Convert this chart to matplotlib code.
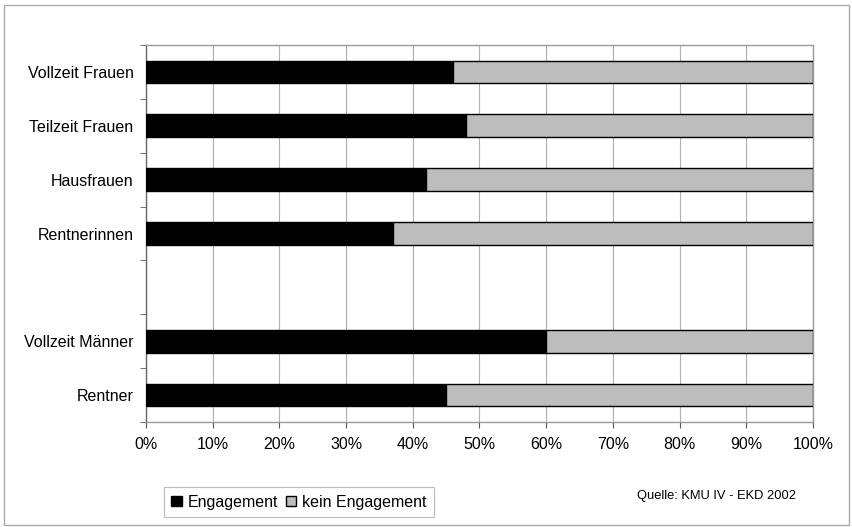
import matplotlib
matplotlib.use("Agg")
import matplotlib.pyplot as plt
from matplotlib.patches import Rectangle, Patch
import numpy as np

categories = ["Vollzeit Frauen", "Teilzeit Frauen", "Hausfrauen", "Rentnerinnen",
              "Vollzeit Männer", "Rentner"]
groups = ["Frauen", "Frauen", "Frauen", "Frauen", "Männer", "Männer"]
engagement = [46, 48, 42, 37, 60, 45]
kein_engagement = [54, 52, 58, 63, 40, 55]
xticks = [0, 10, 20, 30, 40, 50, 60, 70, 80, 90, 100]
xticklabels = [f"{v}%" for v in xticks]
series_names = ["Engagement", "kein Engagement"]
source = "Quelle: KMU IV - EKD 2002"

plt.rcParams['font.family'] = ['Liberation Sans', 'DejaVu Sans']

# positions with an empty slot between groups
pos = []
p = 0
for i, g in enumerate(groups):
    if i > 0 and g != groups[i - 1]:
        p += 1
    pos.append(p)
    p += 1
nslots = p

fig = plt.figure(figsize=(8.53, 5.27), dpi=100)
W, H = 853, 527
ax = fig.add_axes([146 / W, 1 - 422 / H, (813 - 146) / W, (422 - 45) / H])

black = "#000000"
grey = "#bdbdbd"
ax.barh(pos, engagement, height=0.42, color=black, edgecolor=black, linewidth=1, zorder=3)
ax.barh(pos, kein_engagement, left=engagement, height=0.42, color=grey,
        edgecolor=black, linewidth=1, zorder=3)

ax.set_xlim(0, 100)
ax.set_ylim(nslots - 0.5, -0.5)
ax.set_xticks(xticks)
ax.set_xticklabels(xticklabels, fontsize=11.5)
ax.set_yticks(pos)
ax.set_yticklabels(categories, fontsize=11.5)
ax.tick_params(axis='y', which='major', length=0, pad=9)
ax.set_yticks(np.arange(-0.5, nslots, 1.0), minor=True)
ax.tick_params(axis='y', which='minor', length=4, direction='out', color='#555555')
ax.tick_params(axis='x', which='major', length=4, direction='out', color='#555555', pad=7)

ax.grid(axis='x', color='#b0b0b0', linewidth=0.8, zorder=0)
for s in ['top', 'right', 'bottom']:
    ax.spines[s].set_color('#999999')
    ax.spines[s].set_linestyle((0, (1, 1)))
    ax.spines[s].set_linewidth(1)
ax.spines['left'].set_color('#666666')
ax.spines['left'].set_linewidth(1)

# outer frame
fig.patches.append(Rectangle((4 / W, 1 - 525 / H), (849 - 4) / W, (525 - 5) / H,
                             transform=fig.transFigure, fill=False,
                             edgecolor='#aaaaaa', linewidth=1))

handles = [Patch(facecolor=black, edgecolor=black), Patch(facecolor=grey, edgecolor=black)]
leg = fig.legend(handles, series_names, loc='center left',
                 bbox_to_anchor=(164 / W, 1 - 502 / H), ncol=2, fontsize=11.5,
                 frameon=True, fancybox=False, edgecolor='#aaaaaa',
                 handlelength=0.65, handleheight=0.65, handletextpad=0.4,
                 columnspacing=0.45, borderpad=0.45, borderaxespad=0)
leg.get_frame().set_linewidth(0.8)

fig.text(717 / W, 1 - 496 / H, source, fontsize=9.3, ha='center', va='center')

fig.savefig("out.png", dpi=100)
